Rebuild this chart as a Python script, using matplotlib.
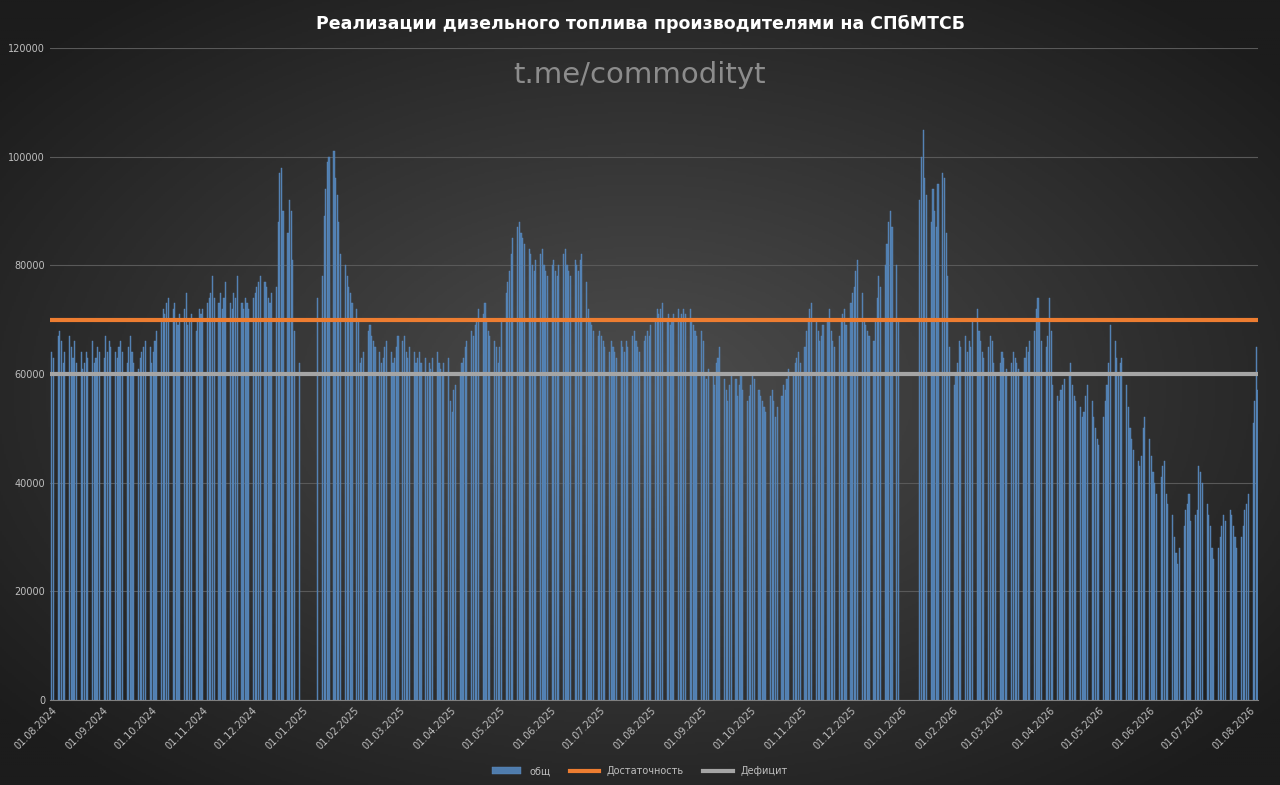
import matplotlib
matplotlib.use("Agg")
import matplotlib.pyplot as plt
import matplotlib.dates as mdates
import numpy as np
import pandas as pd

# daily sales by month (x1000), business days; 0 = holiday
monthly_values = {
    "2024-08": [64, 63, 67, 68, 66, 62, 64, 67, 65, 63, 66, 62, 64, 61, 62, 64, 63, 66, 62, 63, 65, 64],
    "2024-09": [63, 67, 64, 66, 65, 64, 63, 65, 66, 64, 62, 65, 67, 64, 62, 61, 63, 64, 65, 66, 65],
    "2024-10": [62, 64, 66, 68, 70, 72, 71, 73, 74, 72, 73, 70, 69, 71, 72, 75, 69, 70, 71, 68, 70, 72, 71],
    "2024-11": [72, 73, 74, 75, 78, 74, 73, 75, 72, 74, 77, 73, 72, 75, 74, 78, 73, 72, 74, 73, 72],
    "2024-12": [74, 75, 76, 77, 78, 77, 76, 74, 73, 75, 76, 88, 97, 98, 90, 86, 92, 90, 81, 68, 62, 0],
    "2025-01": [0, 0, 0, 0, 0, 0, 0, 74, 78, 89, 94, 99, 100, 101, 96, 93, 88, 82, 80, 78, 76, 75, 73],
    "2025-02": [72, 70, 62, 63, 64, 68, 69, 67, 66, 65, 64, 62, 63, 65, 66, 64, 62, 63, 65, 67],
    "2025-03": [66, 67, 64, 63, 65, 64, 62, 63, 64, 62, 63, 60, 62, 61, 63, 64, 62, 61, 60, 62, 63],
    "2025-04": [55, 53, 57, 58, 60, 62, 63, 65, 66, 68, 67, 69, 70, 72, 71, 73, 70, 68, 67, 66, 65, 62],
    "2025-05": [65, 70, 75, 77, 79, 82, 85, 87, 88, 86, 85, 84, 83, 82, 80, 79, 81, 82, 83, 80, 79, 78],
    "2025-06": [80, 81, 79, 78, 80, 82, 83, 80, 79, 78, 81, 80, 79, 81, 82, 77, 72, 70, 69, 68, 67],
    "2025-07": [68, 67, 66, 65, 64, 66, 65, 64, 63, 66, 65, 64, 66, 65, 67, 68, 66, 65, 64, 66, 67, 68, 67],
    "2025-08": [69, 70, 72, 71, 72, 73, 70, 71, 69, 70, 71, 72, 70, 71, 72, 71, 72, 70, 69, 68, 67],
    "2025-09": [68, 66, 60, 59, 61, 60, 58, 62, 63, 65, 59, 57, 55, 58, 60, 59, 56, 58, 60, 57, 55, 56],
    "2025-10": [58, 60, 59, 57, 56, 55, 54, 53, 56, 57, 55, 52, 54, 56, 58, 57, 59, 61, 60, 62, 63, 64, 62],
    "2025-11": [65, 68, 70, 72, 73, 70, 68, 66, 67, 69, 70, 72, 68, 66, 65, 67, 70, 71, 72, 69],
    "2025-12": [73, 75, 76, 79, 81, 75, 70, 69, 68, 67, 66, 70, 74, 78, 76, 80, 84, 88, 90, 87, 80, 70, 0],
    "2026-01": [0, 0, 0, 0, 0, 0, 0, 92, 100, 105, 96, 93, 88, 94, 90, 87, 95, 97, 96, 86, 78, 65],
    "2026-02": [58, 60, 62, 66, 65, 67, 64, 66, 65, 70, 72, 68, 66, 64, 63, 65, 67, 66, 62, 60],
    "2026-03": [62, 64, 63, 60, 61, 62, 64, 63, 62, 61, 60, 63, 65, 64, 66, 68, 72, 74, 70, 66, 65, 67],
    "2026-04": [74, 68, 58, 56, 55, 57, 58, 59, 60, 62, 58, 56, 55, 54, 52, 53, 56, 58, 55, 52, 50, 48],
    "2026-05": [47, 52, 55, 58, 62, 69, 66, 63, 60, 62, 63, 58, 54, 50, 48, 46, 44, 43, 45, 50, 52],
    "2026-06": [48, 45, 42, 40, 38, 41, 43, 44, 38, 36, 34, 30, 27, 25, 28, 32, 35, 36, 38, 33, 34, 35],
    "2026-07": [43, 42, 40, 36, 34, 32, 28, 26, 28, 30, 32, 34, 33, 35, 34, 32, 30, 28, 30, 32, 35, 36, 38],
    "2026-08": [51, 55, 65, 57],
}
sufficiency_level = 70000
deficit_level = 60000

dates, values = [], []
for month, vals in monthly_values.items():
    start = pd.Timestamp(month + "-01")
    days = pd.bdate_range(start, start + pd.offsets.MonthEnd(0))
    for d, v in zip(days, vals):
        if v > 0:
            dates.append(d)
            values.append(v * 1000)

fig = plt.figure(figsize=(12.8, 7.85), dpi=100)

# radial dark background
bg = fig.add_axes([0, 0, 1, 1], zorder=-10)
yy, xx = np.mgrid[-1:1:400j, -1:1:640j]
r = np.sqrt(xx ** 2 + yy ** 2)
bg.imshow(r, cmap=matplotlib.colors.LinearSegmentedColormap.from_list("g", ["#4d4d4d", "#1c1c1c"]),
          aspect="auto", extent=[0, 1, 0, 1], vmin=0, vmax=1.3)
bg.axis("off")

ax = fig.add_axes([50 / 1280, 85 / 785, 1208 / 1280, 652 / 785])
ax.patch.set_alpha(0)

bars = ax.bar(dates, values, width=0.7, color="#4f7cad", edgecolor="#5d8cc0", linewidth=0.3,
              label="общ", zorder=2)
l1 = ax.axhline(sufficiency_level, color="#ed7d31", lw=3, label="Достаточность", zorder=3)
l2 = ax.axhline(deficit_level, color="#a5a5a5", lw=3, label="Дефицит", zorder=3)

ax.set_ylim(0, 120000)
ax.set_yticks(range(0, 120001, 20000))
ax.set_xlim(pd.Timestamp("2024-08-01") - pd.Timedelta(days=1), pd.Timestamp("2026-08-06"))
ax.xaxis.set_major_locator(mdates.MonthLocator())
ax.xaxis.set_major_formatter(mdates.DateFormatter("%d.%m.%Y"))
plt.setp(ax.get_xticklabels(), rotation=45, ha="right", rotation_mode="anchor")
ax.tick_params(colors="#bfbfbf", labelsize=7, length=0)
ax.grid(axis="y", color="#595959", lw=0.8, zorder=0)
for s in ax.spines.values():
    s.set_visible(False)
ax.spines["bottom"].set_visible(True)
ax.spines["bottom"].set_color("#7f7f7f")

fig.text(0.5, 0.97, "Реализации дизельного топлива производителями на СПбМТСБ",
         ha="center", va="center", color="white", fontsize=12.5, fontweight="bold")
fig.text(0.5, 0.905, "t.me/commodityt", ha="center", va="center",
         color="#8c8c8c", fontsize=21)

fig.legend([bars, l1, l2], ["общ", "Достаточность", "Дефицит"],
           loc="lower center", ncol=3, frameon=False, fontsize=7,
           labelcolor="#bfbfbf", bbox_to_anchor=(0.5, 0.0), handlelength=3)

fig.savefig("out.png", dpi=100)
